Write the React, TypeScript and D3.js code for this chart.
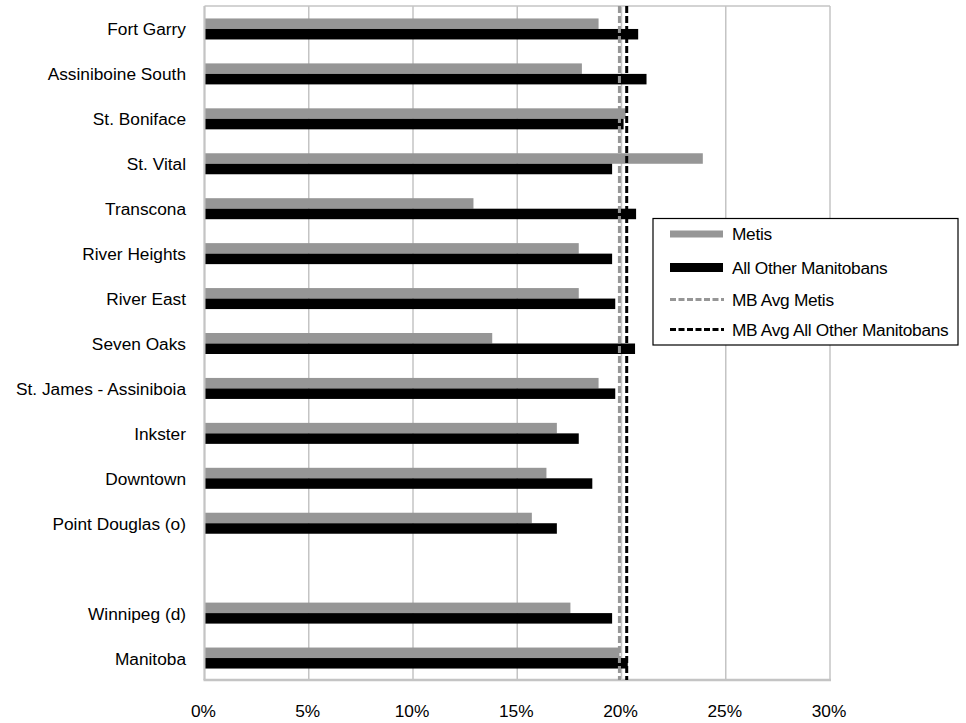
import React from "react";
import * as d3 from "d3";

const categories = [
  "Fort Garry",
  "Assiniboine South",
  "St. Boniface",
  "St. Vital",
  "Transcona",
  "River Heights",
  "River East",
  "Seven Oaks",
  "St. James - Assiniboia",
  "Inkster",
  "Downtown",
  "Point Douglas (o)",
  "",
  "Winnipeg (d)",
  "Manitoba",
];

const metis = [18.9, 18.1, 20.2, 23.9, 12.9, 17.95, 17.95, 13.8, 18.9, 16.9, 16.4, 15.7, null, 17.55, 19.9];
const allOther = [20.8, 21.2, 20.1, 19.55, 20.7, 19.55, 19.7, 20.65, 19.7, 17.95, 18.6, 16.9, null, 19.55, 20.3];

const mbAvgMetis = 19.9;
const mbAvgOther = 20.25;

const xTicks = [0, 5, 10, 15, 20, 25, 30];

const legendItems = ["Metis", "All Other Manitobans", "MB Avg Metis", "MB Avg All Other Manitobans"];

const W = 966;
const H = 723;
const left = 204.5;
const right = 830;
const top = 6;
const bottom = 680;
const GRAY = "#969696";
const GRID = "#c4c4c4";
const FONT = "'Liberation Sans', Arial, sans-serif";
const FS = 17.3;

export default function App() {
  const x = d3.scaleLinear().domain([0, 30]).range([left, right]);
  const y = d3
    .scaleBand<number>()
    .domain(categories.map((_, i) => i))
    .range([top, bottom])
    .padding(0);
  const barH = 10.5;

  return (
    <svg
      width={W}
      height={H}
      style={{ position: "absolute", left: 0, top: 0, background: "#fff" }}
      fontFamily={FONT}
    >
      {xTicks.map((t) => (
        <line key={"g" + t} x1={x(t)} x2={x(t)} y1={top} y2={bottom} stroke={GRID} strokeWidth={1.5} />
      ))}
      <line x1={left} x2={right} y1={top} y2={top} stroke={GRID} strokeWidth={1.5} />
      {categories.map((c, i) => {
        const cy = (y(i) as number) + y.bandwidth() / 2;
        const m = metis[i];
        const o = allOther[i];
        return (
          <g key={"b" + i}>
            {m != null && (
              <rect x={x(0)} y={cy - barH + 0.5} width={x(m) - x(0)} height={barH} fill={GRAY} />
            )}
            {o != null && (
              <rect x={x(0)} y={cy + 0.5} width={x(o) - x(0)} height={barH} fill="#000" />
            )}
          </g>
        );
      })}
      <line x1={left} x2={left} y1={top} y2={bottom} stroke={GRID} strokeWidth={2} />
      <line x1={left - 1} x2={right + 1} y1={bottom} y2={bottom} stroke={GRID} strokeWidth={2.5} />
      <line x1={x(mbAvgMetis)} x2={x(mbAvgMetis)} y1={top} y2={bottom} stroke={GRAY} strokeWidth={3} strokeDasharray="7 3" />
      <line x1={x(mbAvgOther)} x2={x(mbAvgOther)} y1={top} y2={bottom} stroke="#000" strokeWidth={3} strokeDasharray="7 3" />
      {categories.map((c, i) => (
        <text
          key={"l" + i}
          x={186}
          y={(y(i) as number) + y.bandwidth() / 2 + 7}
          textAnchor="end"
          fontSize={FS}
          fill="#000"
        >
          {c}
        </text>
      ))}
      {xTicks.map((t) => (
        <text key={"t" + t} x={x(t) - 1} y={717} textAnchor="middle" fontSize={FS} fill="#000">
          {t + "%"}
        </text>
      ))}
      <g>
        <rect x={653} y={218.5} width={305} height={126.5} fill="#fff" stroke="#000" strokeWidth={1.2} />
        {legendItems.map((name, i) => {
          const ly = [234, 267.5, 299.5, 329.5][i];
          let sw;
          if (i === 0) sw = <rect x={670} y={ly - 3.5} width={53} height={7} fill={GRAY} />;
          else if (i === 1) sw = <rect x={670} y={ly - 4.5} width={53} height={9} fill="#000" />;
          else
            sw = (
              <line
                x1={670}
                x2={724}
                y1={ly}
                y2={ly}
                stroke={i === 2 ? GRAY : "#000"}
                strokeWidth={3}
                strokeDasharray="6 2.5"
              />
            );
          return (
            <g key={"lg" + i}>
              {sw}
              <text x={732} y={ly + 6} fontSize={FS} fill="#000" letterSpacing={-0.3}>
                {name}
              </text>
            </g>
          );
        })}
      </g>
    </svg>
  );
}
